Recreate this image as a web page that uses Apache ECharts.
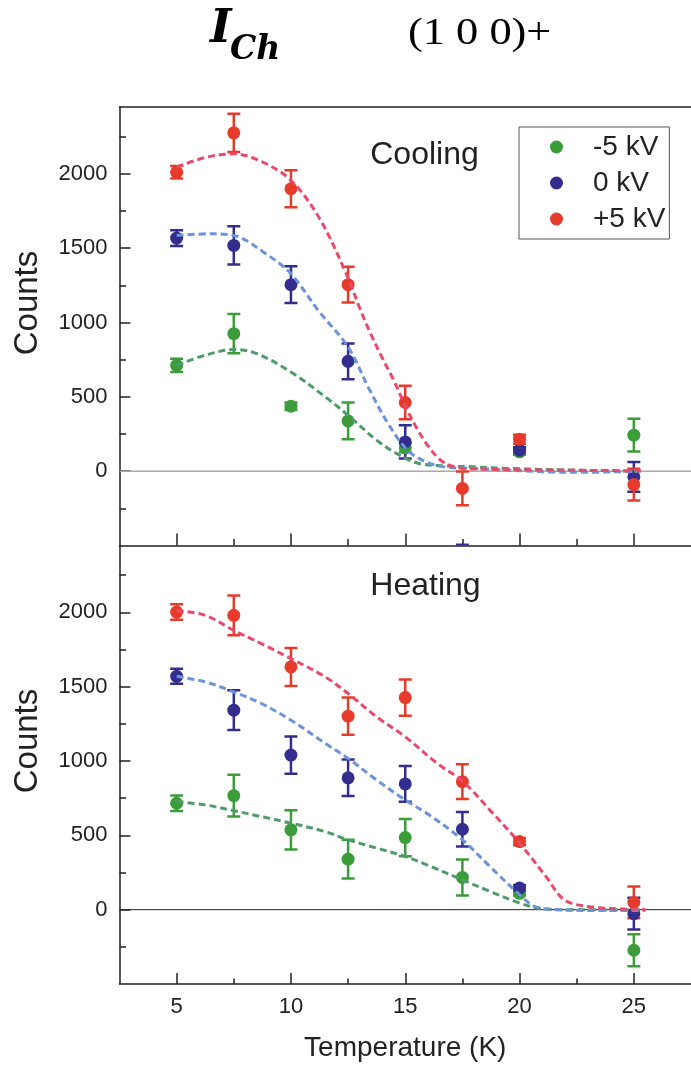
<!DOCTYPE html>
<html><head><meta charset="utf-8">
<script src="https://cdn.jsdelivr.net/npm/echarts@6/dist/echarts.min.js"></script>
<style>html,body{margin:0;padding:0;background:#fff}#c{width:691px;height:1066px}</style>
</head><body><div id="c"></div>
<script>
// ---------- data ----------
const temps = [5, 7.5, 10, 12.5, 15, 17.5, 20, 25];
const seriesNames = ['-5 kV', '0 kV', '+5 kV'];

// Cooling
const coolGreen    = [712, 925, 437, 338, 157, null, 130, 242];
const coolGreenErr = [45, 132, 25, 124, 30, null, 20, 110];
const coolBlue     = [1568, 1519, 1255, 739, 197, -615, 141, -38];
const coolBlueErr  = [53, 128, 123, 120, 112, 120, 20, 100];
const coolRed      = [2011, 2276, 1900, 1255, 462, -116, 215, -90];
const coolRedErr   = [42, 129, 125, 120, 112, 114, 30, 107];

// Heating
const heatGreen    = [716, 767, 537, 340, 485, 217, 110, -273];
const heatGreenErr = [52, 140, 132, 131, 125, 121, 15, 107];
const heatBlue     = [1570, 1342, 1040, 887, 846, 541, 145, -27];
const heatBlueErr  = [50, 134, 125, 123, 120, 116, 20, 107];
const heatRed      = [2002, 1980, 1633, 1302, 1427, 861, 458, 49];
const heatRedErr   = [52, 134, 128, 126, 122, 117, 25, 107];

// Fitted (dashed) curves: [T, counts]
const coolGreenFit = [[5,712],[6.25,780],[7.5,818],[8.5,791],[10,667],[11.5,500],[12.5,376],[13.75,208],[14.75,108],[15.6,52],[16.7,36],[18,29],[19.6,18],[22.5,7],[25.3,0]];
const coolBlueFit  = [[5,1586],[6.5,1597],[7.5,1586],[8.9,1463],[10,1328],[11.2,1080],[12.5,835],[13.45,544],[14.25,320],[15.1,141],[15.9,63],[16.7,29],[18,18],[21.3,-5],[22.6,-8],[25.3,0]];
const coolRedFit   = [[5,2045],[6.25,2110],[7.5,2135],[8.75,2080],[10,1956],[11.25,1700],[12.5,1300],[13,1100],[13.5,920],[14,760],[14.5,610],[15,440],[15.5,290],[16,170],[16.5,80],[17,35],[17.5,20],[19,12],[21,8],[23,5],[25.3,3]];
const heatGreenFit = [[5,727],[6.25,705],[7.5,666],[8.7,626],[10,582],[11.5,525],[12.5,470],[13.75,414],[15,358],[16.05,295],[17.5,201],[18.7,123],[20,45],[20.8,11],[21.7,0],[25.5,0]];
const heatBlueFit  = [[5,1570],[6.25,1532],[7.5,1465],[8.7,1387],[10,1275],[11.5,1119],[12.5,1018],[13.75,872],[15,738],[16.05,637],[17.5,470],[18.7,291],[20,101],[20.65,22],[21.3,4],[23,-5],[25.5,-5]];
const heatRedFit   = [[5,2013],[6.25,1980],[7.5,1879],[8.7,1790],[10,1689],[11.5,1566],[12.5,1454],[13.75,1297],[15,1163],[16.4,984],[17.5,865],[18.7,671],[20,448],[21.15,224],[21.95,67],[22.95,22],[24.6,4],[25.5,2]];

// axes
const xMin = 2.5, xMax = 27.5;
const yMin = -500, yMax = 2450;
const xMajorTicks = [5, 10, 15, 20, 25];
const xMinorTicks = [7.5, 12.5, 17.5, 22.5];
const yMajorTicks = [0, 500, 1000, 1500, 2000];
const yMinorTicks = [-250, 250, 750, 1250, 1750, 2250];
const zeroLine = [[xMin, 0], [xMax, 0]];

// ---------- styles ----------
const markerColors = ['#3a9d3a', '#332e8e', '#e63b2a'];
const fitColors = ['#4f9b6c', '#6d93d9', '#e9496c'];
const axisColor = '#222';
const FONT = 'Liberation Sans';

const G = {left: 119.5, width: 574.8, height: 438.5};
const grids = [
  {left: G.left, top: 107, width: G.width, height: G.height, show: false},
  {left: G.left, top: 545.5, width: G.width, height: G.height, show: false}
];

function xAxes(gi, labels) {
  const list = [
    {gridIndex: gi, type: 'value', min: xMin, max: xMax, position: 'bottom',
     axisLine: {show: true, onZero: false, lineStyle: {color: axisColor, width: 1.5}},
     axisTick: {show: true, inside: true, length: gi === 0 ? 12 : 11, customValues: xMajorTicks, lineStyle: {color: axisColor, width: 1.5}},
     axisLabel: labels ? {show: true, customValues: xMajorTicks, fontSize: 22, fontFamily: FONT, color: axisColor, margin: 12} : {show: false},
     splitLine: {show: false},
     name: labels ? 'Temperature (K)' : '', nameLocation: 'middle', nameGap: 50,
     nameTextStyle: {fontSize: 28, fontFamily: FONT, color: axisColor}},
    {gridIndex: gi, type: 'value', min: xMin, max: xMax, position: 'bottom',
     axisLine: {show: false, onZero: false},
     axisTick: {show: true, inside: true, length: gi === 0 ? 6.5 : 5.5, customValues: xMinorTicks, lineStyle: {color: axisColor, width: 1.5}},
     axisLabel: {show: false}, splitLine: {show: false}}
  ];
  if (gi === 0) {
    list.push({gridIndex: gi, type: 'value', min: xMin, max: xMax, position: 'top',
      axisLine: {show: true, onZero: false, lineStyle: {color: axisColor, width: 1.5}},
      axisTick: {show: false}, axisLabel: {show: false}, splitLine: {show: false}});
  }
  return list;
}
function yAxisPair(gi) {
  return [
    {gridIndex: gi, type: 'value', min: yMin, max: yMax, position: 'left',
     axisLine: {show: true, onZero: false, lineStyle: {color: axisColor, width: 1.5}},
     axisTick: {show: true, inside: true, length: 11, customValues: yMajorTicks, lineStyle: {color: axisColor, width: 1.5}},
     axisLabel: {show: true, customValues: yMajorTicks, formatter: v => String(v), fontSize: 22, fontFamily: FONT, color: axisColor, margin: 12},
     splitLine: {show: false}},
    {gridIndex: gi, type: 'value', min: yMin, max: yMax, position: 'left',
     axisLine: {show: false, onZero: false},
     axisTick: {show: true, inside: true, length: 6.5, customValues: yMinorTicks, lineStyle: {color: axisColor, width: 1.5}},
     axisLabel: {show: false}, splitLine: {show: false}}
  ];
}

function errRender(color) {
  return function (params, api) {
    const x = api.value(0), y = api.value(1), e = api.value(2);
    const hi = api.coord([x, y + e]), lo = api.coord([x, y - e]);
    const w = 6.5;
    const style = {stroke: color, lineWidth: 2.5};
    return {type: 'group', children: [
      {type: 'line', shape: {x1: hi[0], y1: hi[1], x2: lo[0], y2: lo[1]}, style: style},
      {type: 'line', shape: {x1: hi[0] - w, y1: hi[1], x2: hi[0] + w, y2: hi[1]}, style: style},
      {type: 'line', shape: {x1: lo[0] - w, y1: lo[1], x2: lo[0] + w, y2: lo[1]}, style: style}
    ]};
  };
}
function pts(vals, errs) {
  const out = [];
  temps.forEach((t, i) => { if (vals[i] != null) out.push([t, vals[i], errs[i]]); });
  return out;
}

const series = [];
function panel(gi, xi, yi, data, errs, fits, zeroColor, zeroWidth) {
  series.push({type: 'line', name: 'zero' + gi, xAxisIndex: xi, yAxisIndex: yi, data: zeroLine,
    showSymbol: false, silent: true, z: 1, lineStyle: {color: zeroColor, width: zeroWidth}});
  for (let k = 0; k < 3; k++) {
    series.push({type: 'custom', name: 'err' + gi + k, xAxisIndex: xi, yAxisIndex: yi, clip: true, z: 2,
      renderItem: errRender(markerColors[k]), encode: {x: 0, y: 1}, data: pts(data[k], errs[k])});
    series.push({type: 'scatter', name: seriesNames[k], xAxisIndex: xi, yAxisIndex: yi, z: 3, clip: true,
      symbolSize: 13, itemStyle: {color: markerColors[k], opacity: 1},
      data: pts(data[k], errs[k]).map(p => [p[0], p[1]])});
  }
  for (let k = 0; k < 3; k++) {
    series.push({type: 'line', name: 'fit' + gi + k, xAxisIndex: xi, yAxisIndex: yi, z: 4,
      data: fits[k], showSymbol: false, smooth: 0.35, silent: true,
      lineStyle: {color: fitColors[k], width: 3, type: [7, 4]}});
  }
}
panel(0, 0, 0, [coolGreen, coolBlue, coolRed], [coolGreenErr, coolBlueErr, coolRedErr], [coolGreenFit, coolBlueFit, coolRedFit], '#aaaaaa', 1.5);
panel(1, 3, 2, [heatGreen, heatBlue, heatRed], [heatGreenErr, heatBlueErr, heatRedErr], [heatGreenFit, heatBlueFit, heatRedFit], '#222', 1);

const chart = echarts.init(document.getElementById('c'), null, {renderer: 'canvas'});
chart.setOption({
  animation: false,
  backgroundColor: '#fff',
  grid: grids,
  xAxis: [...xAxes(0, false), ...xAxes(1, true)],
  yAxis: [...yAxisPair(0), ...yAxisPair(1)],
  legend: {
    data: seriesNames, orient: 'vertical', left: 519, top: 127,
    padding: [6, 4, 6, 31], itemWidth: 13, itemHeight: 13, itemGap: 8,
    borderColor: '#555', borderWidth: 1, borderRadius: 0, icon: 'circle', selectedMode: false,
    textStyle: {fontSize: 28, fontFamily: FONT, color: axisColor, padding: [0, 0, 0, 25]}
  },
  graphic: [
    {type: 'text', x: 210, y: 30, style: {text: 'I', font: 'italic bold 46px "DejaVu Serif"', fill: '#000', align: 'left', verticalAlign: 'middle'}},
    {type: 'text', x: 230, y: 50, style: {text: 'Ch', font: 'italic bold 33px "DejaVu Serif"', fill: '#000', align: 'left', verticalAlign: 'middle'}},
    {type: 'text', x: 408, y: 34.2, scaleX: 1.2, style: {text: '(1 0 0)+', font: '37px "Liberation Serif"', fill: '#000', align: 'left', verticalAlign: 'middle'}},
    {type: 'text', x: 28, y: 303, rotation: Math.PI / 2, style: {text: 'Counts', font: '33px "Liberation Sans"', fill: axisColor, align: 'center', verticalAlign: 'middle'}},
    {type: 'text', x: 28, y: 741, rotation: Math.PI / 2, style: {text: 'Counts', font: '33px "Liberation Sans"', fill: axisColor, align: 'center', verticalAlign: 'middle'}},
    {type: 'text', x: 424.5, y: 155, style: {text: 'Cooling', font: '32px "Liberation Sans"', fill: axisColor, align: 'center', verticalAlign: 'middle'}},
    {type: 'text', x: 425.5, y: 586, style: {text: 'Heating', font: '32px "Liberation Sans"', fill: axisColor, align: 'center', verticalAlign: 'middle'}}
  ],
  series: series
});
</script>
</body></html>
